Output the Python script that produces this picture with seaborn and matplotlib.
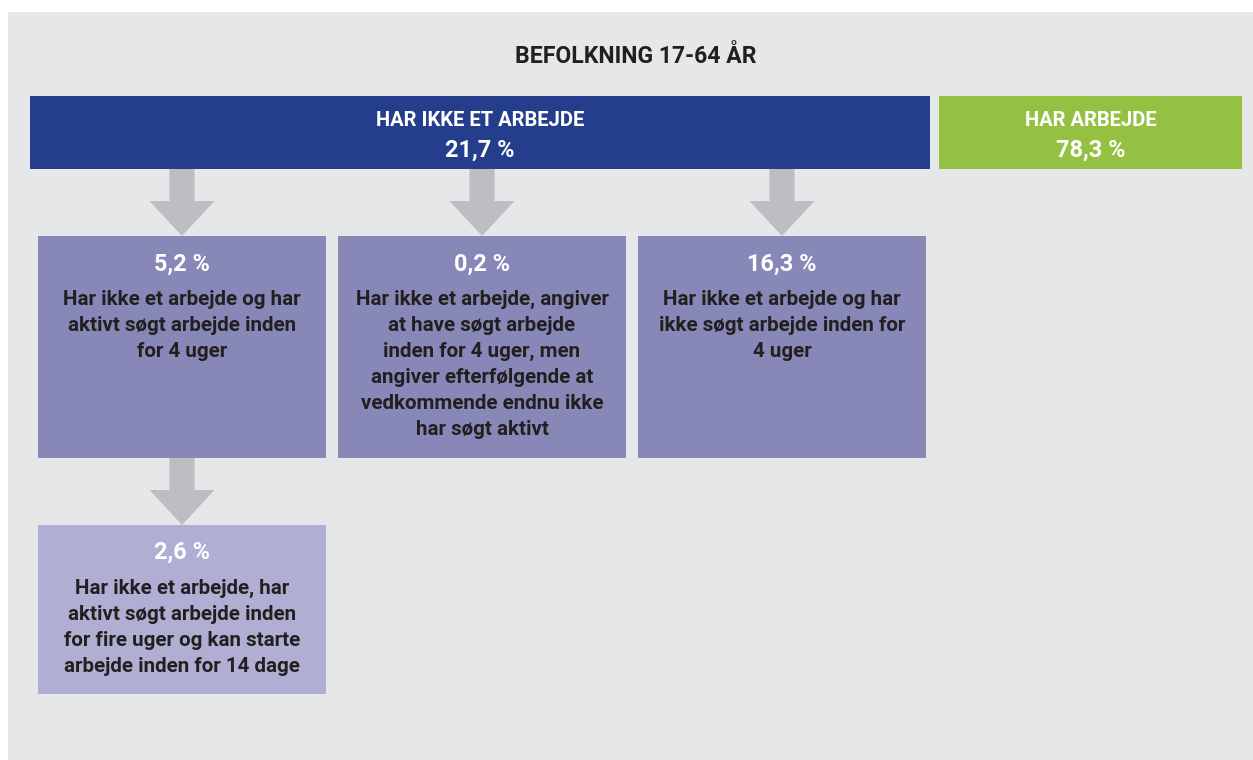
import matplotlib
matplotlib.use("Agg")
import matplotlib.pyplot as plt
from matplotlib.patches import Rectangle, Polygon
import seaborn as sns

# ---- data ----
title = "BEFOLKNING 17-64 ÅR"
top_labels = ["HAR IKKE ET ARBEJDE", "HAR ARBEJDE"]
top_values = ["21,7 %", "78,3 %"]
sub_values = ["5,2 %", "0,2 %", "16,3 %"]
sub_texts = [
    ["Har ikke et arbejde og har", "aktivt søgt arbejde inden", "for 4 uger"],
    ["Har ikke et arbejde, angiver", "at have søgt arbejde", "inden for 4 uger, men",
     "angiver efterfølgende at", "vedkommende endnu ikke", "har søgt aktivt"],
    ["Har ikke et arbejde og har", "ikke søgt arbejde inden for", "4 uger"],
]
leaf_value = "2,6 %"
leaf_text = ["Har ikke et arbejde, har", "aktivt søgt arbejde inden",
             "for fire uger og kan starte", "arbejde inden for 14 dage"]

# ---- style ----
sns.set_theme(style="white")
plt.rcParams['font.family'] = ['Roboto', 'DejaVu Sans']

BG = "#e6e7e9"
BLUE = "#253e8c"
GREEN = "#95c143"
MID = "#8787b8"
LIGHT = "#b0afd3"
ARROW = "#bdbec1"
DARK = "#231f20"

FS_TITLE = 16.6
FS_LABEL = 14.5
FS_PCT = 16.9
FS_BODY = 14.8
LINE = 26

W, H = 1253, 760
fig = plt.figure(figsize=(W / 100, H / 100), dpi=100)
fig.patch.set_facecolor("white")
ax = fig.add_axes([0, 0, 1, 1])
ax.set_xlim(0, W)
ax.set_ylim(H, 0)
ax.axis("off")

def rect(x0, y0, x1, y1, color):
    ax.add_patch(Rectangle((x0, y0), x1 - x0, y1 - y0, facecolor=color, edgecolor="none", lw=0))

def arrow(cx, y0, y1):
    sw, hw, hh = 12.5, 32.5, 35
    ys = y1 - hh
    pts = [(cx - sw, y0), (cx + sw, y0), (cx + sw, ys), (cx + hw, ys),
           (cx, y1), (cx - hw, ys), (cx - sw, ys)]
    ax.add_patch(Polygon(pts, closed=True, facecolor=ARROW, edgecolor="none"))

def txt(x, y, s, fs, color):
    ax.text(x, y, s, ha="center", va="baseline", fontsize=fs, fontweight="bold", color=color)

# background panel
rect(8, 12, W, H, BG)

txt(636, 63, title, FS_TITLE, DARK)

# top boxes
tops = [(30, 930, BLUE), (939, 1242, GREEN)]
for (x0, x1, c), lab, val in zip(tops, top_labels, top_values):
    rect(x0, 96, x1, 169, c)
    cx = (x0 + x1) / 2
    txt(cx, 126, lab, FS_LABEL, "white")
    txt(cx, 157, val, FS_PCT, "white")

# second row
cols = [(38, 326), (338, 626), (638, 926)]
for (x0, x1), val, lines in zip(cols, sub_values, sub_texts):
    cx = (x0 + x1) / 2
    arrow(cx, 169, 236)
    rect(x0, 236, x1, 458, MID)
    txt(cx, 271, val, FS_PCT, "white")
    for i, ln in enumerate(lines):
        txt(cx, 305 + i * LINE, ln, FS_BODY, DARK)

# leaf
x0, x1 = cols[0]
cx = (x0 + x1) / 2
arrow(cx, 458, 525)
rect(x0, 525, x1, 694, LIGHT)
txt(cx, 559, leaf_value, FS_PCT, "white")
for i, ln in enumerate(leaf_text):
    txt(cx, 593.5 + i * LINE, ln, FS_BODY, DARK)

fig.savefig("out.png", dpi=100, facecolor=fig.get_facecolor())
